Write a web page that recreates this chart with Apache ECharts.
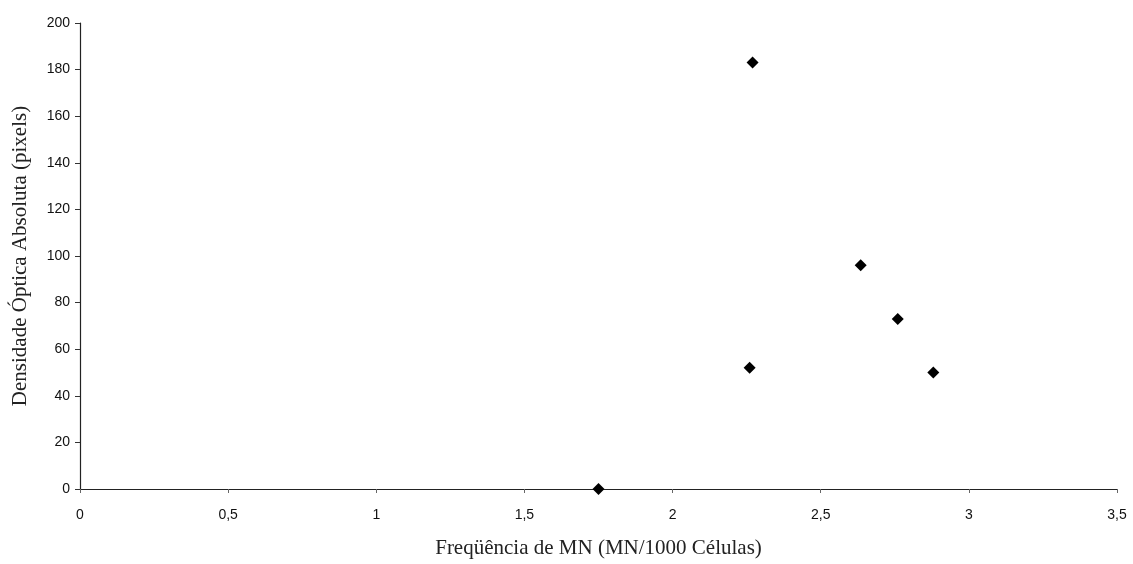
<!DOCTYPE html>
<html>
<head>
<meta charset="utf-8">
<script src="https://cdn.jsdelivr.net/npm/echarts@6/dist/echarts.min.js"></script>
<style>
  html, body { margin: 0; padding: 0; background: #fff; }
  #chart-container { width: 1133px; height: 564px; }
</style>
</head>
<body>
<div id="chart-container"></div>
<script>
// frequência de MN (x) e densidade óptica (y)
var freqMN = [1.75, 2.26, 2.27, 2.635, 2.76, 2.88];
var densidade = [0, 52, 183, 96, 73, 50];

var points = freqMN.map(function (x, i) { return [x, densidade[i]]; });

var dom = document.getElementById('chart-container');
var myChart = echarts.init(dom, null, { renderer: 'canvas' });

var option = {
  backgroundColor: '#fff',
  animation: false,
  grid: { left: 80, right: 16, top: 23, bottom: 72 },
  xAxis: {
    type: 'value',
    min: 0,
    max: 3.5,
    interval: 0.5,
    name: 'Freqüência de MN (MN/1000 Células)',
    nameLocation: 'middle',
    nameGap: 49,
    nameTextStyle: { fontFamily: 'Liberation Serif', fontSize: 21, color: '#222' },
    splitLine: { show: false },
    axisLine: { lineStyle: { color: '#222', width: 1.2 } },
    axisTick: { show: true, length: 4, lineStyle: { color: '#666' } },
    axisLabel: {
      margin: 19,
      fontFamily: 'Liberation Sans',
      fontSize: 14,
      color: '#111',
      formatter: function (v) { return String(v).replace('.', ','); }
    }
  },
  yAxis: {
    type: 'value',
    min: 0,
    max: 200,
    interval: 20,
    name: 'Densidade Óptica Absoluta (pixels)',
    nameLocation: 'middle',
    nameGap: 49,
    nameTextStyle: { fontFamily: 'Liberation Serif', fontSize: 21, color: '#222' },
    splitLine: { show: false },
    axisLine: { show: true, lineStyle: { color: '#222', width: 1.2 } },
    axisTick: { show: true, length: 5, lineStyle: { color: '#333' } },
    axisLabel: {
      margin: 10,
      fontFamily: 'Liberation Sans',
      fontSize: 14,
      color: '#111'
    }
  },
  series: [
    {
      type: 'scatter',
      data: points,
      symbol: 'diamond',
      symbolSize: 12,
      itemStyle: { color: '#000', opacity: 1 }
    }
  ]
};

myChart.setOption(option);
window.addEventListener('resize', myChart.resize);
</script>
</body>
</html>
